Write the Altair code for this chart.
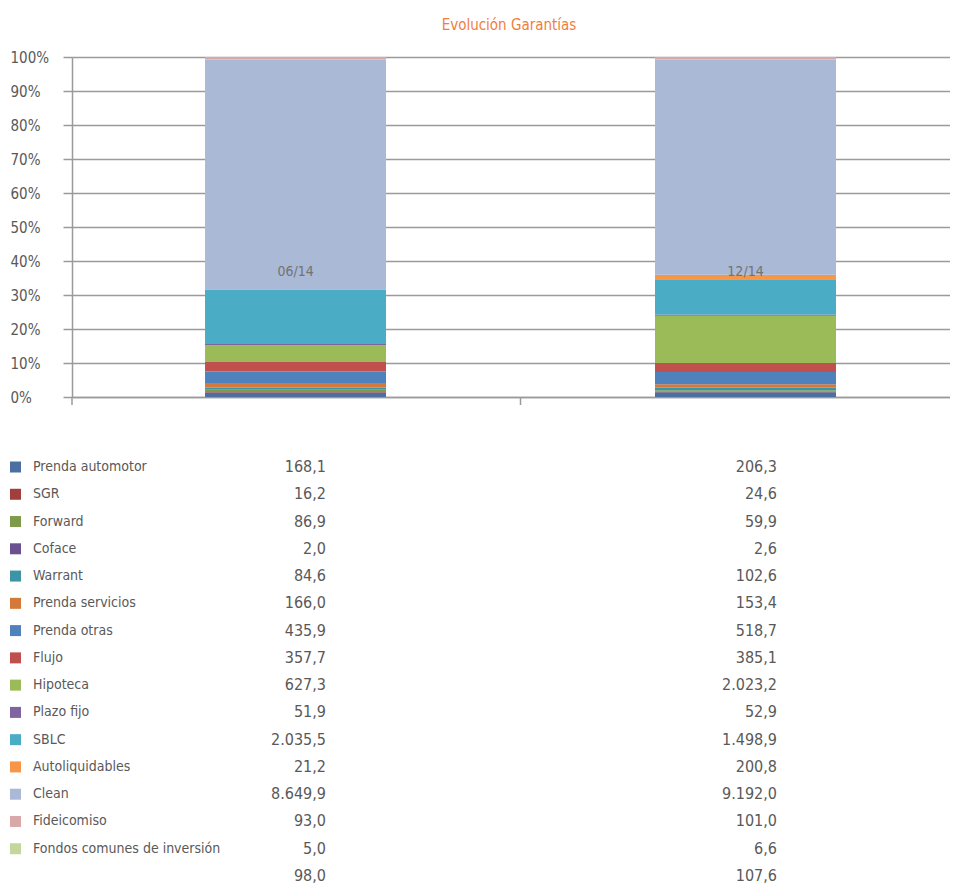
import altair as alt
import pandas as pd

periods = ["06/14", "12/14"]
series = ["Prenda automotor", "SGR", "Forward", "Coface", "Warrant", "Prenda servicios",
          "Prenda otras", "Flujo", "Hipoteca", "Plazo fijo", "SBLC", "Autoliquidables",
          "Clean", "Fideicomiso", "Fondos comunes de inversión"]
vals_0614 = [168.1, 16.2, 86.9, 2.0, 84.6, 166.0, 435.9, 357.7, 627.3, 51.9, 2035.5, 21.2, 8649.9, 93.0, 5.0]
vals_1214 = [206.3, 24.6, 59.9, 2.6, 102.6, 153.4, 518.7, 385.1, 2023.2, 52.9, 1498.9, 200.8, 9192.0, 101.0, 6.6]
extra_row = [98.0, 107.6]
colors = ["#4A6FA0", "#A13F3C", "#7F9A48", "#6A5190", "#3D94A6", "#D4793A",
          "#4F81BD", "#C0504D", "#9BBB59", "#8064A2", "#4BACC6", "#F79646",
          "#A9B9D6", "#D9A9AA", "#C3D69B"]

FONT = "Liberation Sans Narrow, DejaVu Sans Condensed, sans-serif"
GRAY = "#595959"
LINE = "#9a9a9a"


def fmt(v):
    s = f"{v:,.1f}"
    return s.replace(",", "X").replace(".", ",").replace("X", ".")


rows = []
for i, s in enumerate(series):
    rows.append({"period": "06/14", "serie": s, "value": vals_0614[i], "ord": i})
    rows.append({"period": "12/14", "serie": s, "value": vals_1214[i], "ord": i})
bars_df = pd.DataFrame(rows)

table_rows = []
for i, s in enumerate(series):
    table_rows.append({"row": i, "serie": s, "v1": fmt(vals_0614[i]), "v2": fmt(vals_1214[i])})
table_rows.append({"row": len(series), "serie": "", "v1": fmt(extra_row[0]), "v2": fmt(extra_row[1])})
table_df = pd.DataFrame(table_rows)

W, H = 878, 340

xscale = alt.Scale(domain=periods, paddingInner=0.5978, paddingOuter=0.2745, align=0.5385)
xaxis = alt.Axis(title=None, labels=False, ticks=False, domain=True, domainColor=LINE,
                 domainWidth=1.5, grid=False)
cscale = alt.Scale(domain=series, range=colors)

bars = alt.Chart(bars_df).mark_bar(strokeWidth=0).encode(
    x=alt.X("period:N", scale=xscale, axis=xaxis, sort=periods),
    y=alt.Y("value:Q", stack="normalize", scale=alt.Scale(domain=[0, 1]),
            axis=alt.Axis(title=None, format="%", values=[i / 10 for i in range(11)],
                          labelFont=FONT, labelFontSize=15, labelColor=GRAY,
                          labelAlign="left", labelPadding=53, tickSize=9,
                          tickColor=LINE, tickWidth=1.5, domainColor=LINE, domainWidth=1.5,
                          grid=True, gridColor=LINE, gridWidth=1.5, labelBaseline="middle")),
    color=alt.Color("serie:N", scale=cscale, legend=None),
    order=alt.Order("ord:Q", sort="ascending"),
)

cat_df = pd.DataFrame({"period": periods})
cat_labels = alt.Chart(cat_df).mark_text(font=FONT, fontSize=14, color="#737373").encode(
    x=alt.X("period:N", scale=xscale, axis=xaxis, sort=periods),
    y=alt.value(215),
    text="period:N",
)

mid_tick = alt.Chart(cat_df.head(1)).mark_rule(color=LINE, strokeWidth=1.5).encode(
    x=alt.value(448.5), y=alt.value(H), y2=alt.value(H + 8)
)
left_ext = alt.Chart(cat_df.head(1)).mark_rule(color=LINE, strokeWidth=1.5).encode(
    x=alt.value(0), y=alt.value(H), y2=alt.value(H + 8)
)

yrow = alt.Y("row:Q", scale=alt.Scale(domain=[0, len(series)], range=[410, 819]), axis=None)

swatches = alt.Chart(table_df).transform_filter("datum.serie != ''").mark_square(
    size=121, opacity=1, strokeWidth=0
).encode(
    x=alt.value(-56.5), y=yrow,
    color=alt.Color("serie:N", scale=cscale, legend=None),
)
names = alt.Chart(table_df).mark_text(font=FONT, fontSize=14, color=GRAY, align="left",
                                      baseline="middle").encode(
    x=alt.value(-39), y=yrow, text="serie:N")
col1 = alt.Chart(table_df).mark_text(font=FONT, fontSize=16, color=GRAY, align="right",
                                     baseline="middle").encode(
    x=alt.value(254), y=yrow, text="v1:N")
col2 = alt.Chart(table_df).mark_text(font=FONT, fontSize=16, color=GRAY, align="right",
                                     baseline="middle").encode(
    x=alt.value(705), y=yrow, text="v2:N")

table = alt.layer(swatches, names, col1, col2)

chart = alt.layer(bars, cat_labels, mid_tick, left_ext, table).resolve_scale(
    y="independent"
).properties(
    width=W, height=H,
    padding={"left": 2, "top": 10, "right": 0, "bottom": 0},
    title=alt.TitleParams("Evolución Garantías", font=FONT, fontSize=15, fontWeight="normal",
                          color="#F07E3E", anchor="middle", frame="group", offset=17, dx=-2),
).configure_view(stroke=None)

chart.save("out.html", embed_options={"renderer": "svg", "actions": False})
